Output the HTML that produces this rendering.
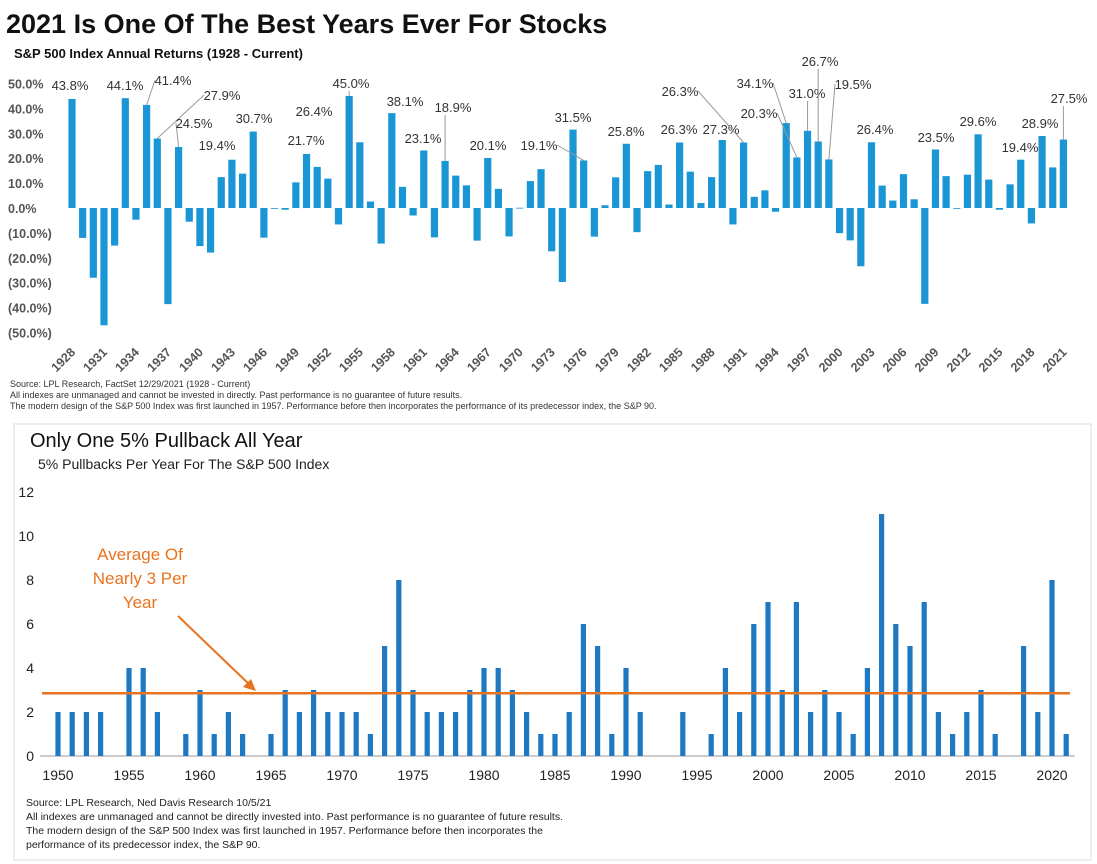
<!DOCTYPE html>
<html><head><meta charset="utf-8">
<style>
body{margin:0;background:#fff;width:1097px;height:864px;overflow:hidden;font-family:"Liberation Sans",Arial,sans-serif;}
svg{position:absolute;left:0;top:0}
</style></head>
<body>
<svg id="chart" width="1097" height="864">
<text x="6" y="33" font-size="27" font-weight="bold" fill="#111">2021 Is One Of The Best Years Ever For Stocks</text>
<text x="14" y="58" font-size="13" font-weight="bold" fill="#111">S&amp;P 500 Index Annual Returns (1928 - Current)</text>
<g id="topg"></g>
<g font-size="9" fill="#333">
<text x="10" y="387">Source: LPL Research, FactSet 12/29/2021 (1928 - Current)</text>
<text x="10" y="398">All indexes are unmanaged and cannot be invested in directly. Past performance is no guarantee of future results.</text>
<text x="10" y="409">The modern design of the S&amp;P 500 Index was first launched in 1957. Performance before then incorporates the performance of its predecessor index, the S&amp;P 90.</text>
</g>
<rect x="14" y="424" width="1077" height="436" fill="none" stroke="#ddd"/>
<text x="30" y="447" font-size="20" fill="#111">Only One 5% Pullback All Year</text>
<text x="38" y="469" font-size="14" fill="#222">5% Pullbacks Per Year For The S&amp;P 500 Index</text>
<g id="bot"></g>
<g font-size="10.5" fill="#222">
<text x="26" y="806">Source: LPL Research, Ned Davis Research 10/5/21</text>
<text x="26" y="820">All indexes are unmanaged and cannot be directly invested into. Past performance is no guarantee of future results.</text>
<text x="26" y="834">The modern design of the S&amp;P 500 Index was first launched in 1957. Performance before then incorporates the</text>
<text x="26" y="848">performance of its predecessor index, the S&amp;P 90.</text>
</g>
</svg>
<script>
const NS="http://www.w3.org/2000/svg";
const topYears=[];for(let y=1928;y<=2021;y++)topYears.push(y);
const topReturns=[43.8,-12,-28,-47.1,-15.1,44.1,-4.7,41.4,27.9,-38.6,24.5,-5.5,-15.3,-17.9,12.4,19.4,13.8,30.7,-11.9,0,-0.7,10.3,21.7,16.5,11.8,-6.6,45.0,26.4,2.6,-14.3,38.1,8.5,-3.0,23.1,-11.8,18.9,13.0,9.1,-13.1,20.1,7.7,-11.4,0.1,10.8,15.6,-17.4,-29.7,31.5,19.1,-11.5,1.1,12.3,25.8,-9.7,14.8,17.3,1.4,26.3,14.6,2.0,12.4,27.3,-6.6,26.3,4.5,7.1,-1.5,34.1,20.3,31.0,26.7,19.5,-10.1,-13.0,-23.4,26.4,9.0,3.0,13.6,3.5,-38.5,23.5,12.8,0.0,13.4,29.6,11.4,-0.7,9.5,19.4,-6.2,28.9,16.3,27.5];
const topTicks=[50,40,30,20,10,0,-10,-20,-30,-40,-50];
const topTickLabels=["50.0%","40.0%","30.0%","20.0%","10.0%","0.0%","(10.0%)","(20.0%)","(30.0%)","(40.0%)","(50.0%)"];
const labelYears=[1928,1933,1935,1936,1938,1943,1945,1950,1955,1954,1958,1961,1963,1967,1975,1976,1980,1985,1989,1991,1995,1996,1997,1998,1999,2003,2009,2013,2017,2019,2021];
// label text placement (center x, baseline y) — annotation layout only
const labelPos=[[70,90],[125,90],[173,85],[222,100],[194,128],[217,150],[254,123],[306,145],[314,116],[351,88],[405,106],[423,143],[453,112],[488,150],[573,122],[539,150],[626,136],[679,134],[721,134],[680,96],[755,88],[759,118],[807,98],[820,66],[853,89],[875,134],[936,142],[978,126],[1020,152],[1040,128],[1069,103]];
const leaderYears=[1935,1936,1938,1954,1963,1976,1991,1995,1996,1997,1998,1999,2021];
const bx=y=>72+(y-1928)*10.66;
const by=v=>208-v*2.49;
const topG=document.getElementById('topg');
function mk(tag,attrs,parent){const e=document.createElementNS(NS,tag);for(const k in attrs)e.setAttribute(k,attrs[k]);parent.appendChild(e);return e;}
topTicks.forEach((t,i)=>{const e=mk('text',{x:8,y:by(t)+5,'font-size':12.5,'font-weight':'bold',fill:'#555'},topG);e.textContent=topTickLabels[i];

});
topYears.forEach((yr,i)=>{const v=topReturns[i];const r=mk('rect',{x:bx(yr)-3.6,y:Math.min(by(v),by(0)),width:7.2,height:Math.max(Math.abs(by(v)-by(0)),0.8),fill:'#1a96d4'},topG);


if((yr-1928)%3===0){const t=mk('text',{x:bx(yr)+4,y:353,'font-size':12.5,'font-weight':'bold',fill:'#555','text-anchor':'end',transform:`rotate(-45 ${bx(yr)+4} 353)`},topG);t.textContent=yr;

}});
labelYears.forEach((yr,i)=>{const v=topReturns[yr-1928];const p=labelPos[i];
if(leaderYears.includes(yr)){const tx=bx(yr),ty=by(v);const sx=Math.abs(tx-p[0])<8?tx:p[0]+(tx>p[0]?18:-18),sy=Math.abs(tx-p[0])<8?p[1]+3:p[1]-5;
const l=mk('line',{x1:sx,y1:sy,x2:tx,y2:ty,stroke:'#999','stroke-width':1},topG);

}
const t=mk('text',{x:p[0],y:p[1],'font-size':13,fill:'#333','text-anchor':'middle'},topG);t.textContent=v.toFixed(1)+'%';

});

const botYears=[];for(let y=1950;y<=2021;y++)botYears.push(y);
const pullbacks=[2,2,2,2,0,4,4,2,0,1,3,1,2,1,0,1,3,2,3,2,2,2,1,5,8,3,2,2,2,3,4,4,3,2,1,1,2,6,5,1,4,2,0,0,2,0,1,4,2,6,7,3,7,2,3,2,1,4,11,6,5,7,2,1,2,3,1,0,5,2,8,1];
const botTicks=[0,2,4,6,8,10,12];
const botXTicks=[1950,1955,1960,1965,1970,1975,1980,1985,1990,1995,2000,2005,2010,2015,2020];
const average=[2.85];
const bot=document.getElementById('bot');
const px=y=>58+(y-1950)*14.2;
const py=v=>756-v*22;
botTicks.forEach(t=>{const e=mk('text',{x:34,y:py(t)+5,'font-size':14,fill:'#222','text-anchor':'end'},bot);e.textContent=t;

});
const ax=mk('line',{x1:40,x2:1075,y1:756,y2:756,stroke:'#999'},bot);


botYears.forEach((yr,i)=>{const v=pullbacks[i];if(v<=0)return;const r=mk('rect',{x:px(yr)-2.6,y:py(v),width:5.2,height:py(0)-py(v),fill:'#1e78c2'},bot);

});
botXTicks.forEach(yr=>{const t=mk('text',{x:px(yr),y:780,'font-size':14,fill:'#222','text-anchor':'middle'},bot);t.textContent=yr;

});
const avg=mk('line',{x1:42,x2:1070,y1:py(average[0]),y2:py(average[0]),stroke:'#e8731f','stroke-width':2.5},bot);


["Average Of","Nearly 3 Per","Year"].forEach((s,i)=>{const t=mk('text',{x:140,y:560+i*24,'font-size':17,fill:'#e8731f','text-anchor':'middle'},bot);t.textContent=s;

});
const ar=mk('line',{x1:178,y1:616,x2:252,y2:687,stroke:'#e8731f','stroke-width':2},bot);


const ah=mk('polygon',{points:'256,691 243,687 251,679',fill:'#e8731f'},bot);


</script>
</body></html>
